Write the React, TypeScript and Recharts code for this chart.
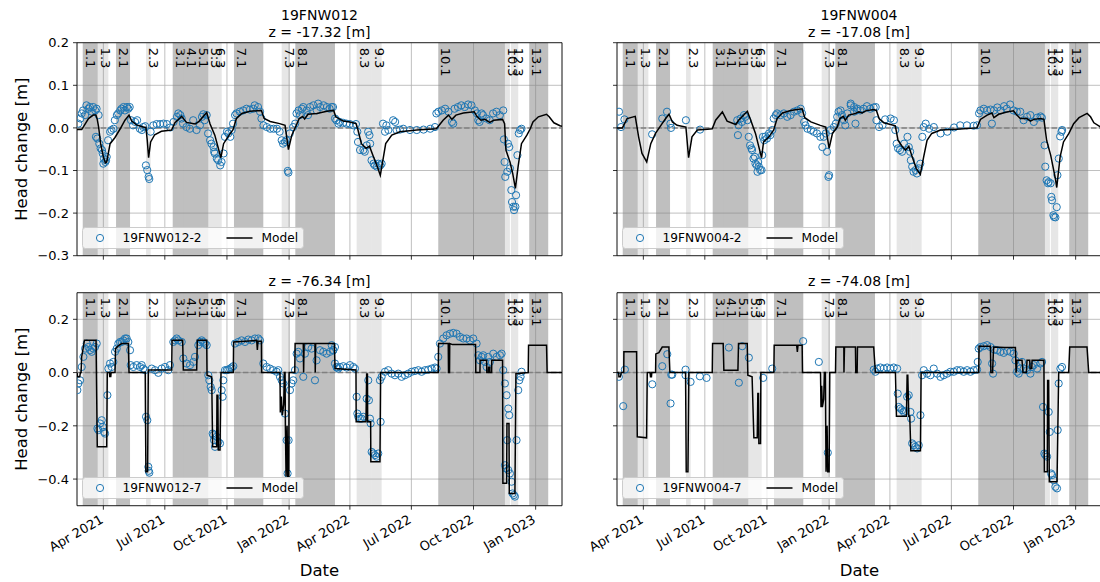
import React from 'react';
import {
  ComposedChart,
  Line,
  Scatter,
  XAxis,
  YAxis,
  CartesianGrid,
  ReferenceArea,
  ReferenceLine,
  Legend,
} from 'recharts';

type Pt = [number, number];

const FONT = '"DejaVu Sans", sans-serif';
const BLUE = '#1f77b4';

// x values are days counted from 1 Jan 2021
const X_DOMAIN: [number, number] = [51, 769];
const monthTicks = [90, 181, 273, 365, 455, 546, 638, 730];
const monthLabels = ['Apr 2021', 'Jul 2021', 'Oct 2021', 'Jan 2022', 'Apr 2022', 'Jul 2022', 'Oct 2022', 'Jan 2023'];

const upperTicks = [0.2, 0.1, 0, -0.1, -0.2, -0.3];
const lowerTicks = [0.2, 0, -0.2, -0.4];

// test phases (p = pumping, r = recovery)
const phaseNames = ['1.1', '1.3', '2.1', '2.3', '3.1', '4.1', '5.1', '5.3', '6.3', '7.1', '7.3', '8.1', '8.3', '9.3', '10.1', '10.3', '12.3', '13.1'];
const phaseStart = [59.5, 81.7, 108.8, 153.2, 192.7, 209.4, 227.2, 245.4, 252.3, 283.4, 354, 374.2, 465, 487.2, 585.8, 684.5, 693.4, 720.5];
const phaseEnd = [81.7, 97.4, 129.5, 160.1, 209.4, 227.2, 245.4, 252.3, 265.2, 326.8, 366.3, 432.9, 487.2, 502, 684.5, 691.9, 704.2, 748.6];
const phaseKind = ['p', 'r', 'p', 'r', 'p', 'p', 'p', 'r', 'r', 'p', 'r', 'p', 'r', 'r', 'p', 'r', 'r', 'p'];

// ---- 19FNW012, shallow filter ----
const modelUpper012: Pt[] = [
  [51, -0.004], [58, -0.004], [68, 0.022], [75, 0.03], [79, 0.03], [81, 0.02], [83, 0.002], [86, -0.037], [90, -0.068], [93, -0.082], [95, -0.08], [100, -0.037], [107, -0.023], [115, -0.002], [122, 0.018], [128, 0.03], [132, 0.016], [139, 0.007], [149, 0.002], [153, 0.001], [155, -0.029], [157, -0.07], [160, -0.033], [166, -0.016], [176, -0.008], [191, -0.005], [196, 0.012], [206, 0.027], [213, 0.013], [226, 0.009], [232, 0.016], [243, 0.036], [248, 0.009], [255, -0.017], [264, -0.07], [268, -0.037], [275, -0.02], [282, -0.004], [287, 0.022], [295, 0.034], [307, 0.039], [324, 0.041], [328, 0.022], [337, 0.015], [351, 0.01], [359, 0.006], [364, -0.051], [369, -0.017], [375, 0.004], [380, 0.022], [385, 0.027], [388, 0.021], [393, 0.032], [406, 0.034], [421, 0.039], [431, 0.041], [434, 0.026], [445, 0.016], [455, 0.014], [464, 0.01], [467, -0.005], [472, -0.037], [479, -0.048], [484, -0.043], [489, -0.064], [495, -0.088], [500, -0.111], [503, -0.084], [508, -0.037], [517, -0.017], [529, -0.009], [554, -0.005], [583, -0.002], [593, 0.018], [601, 0.03], [606, 0.02], [612, 0.03], [623, 0.035], [639, 0.038], [643, 0.027], [649, 0.018], [655, 0.02], [662, 0.013], [668, 0.018], [681, 0.02], [684, 0.01], [686, -0.052], [692, -0.08], [696, -0.107], [700, -0.142], [704, -0.091], [709, -0.037], [717, -0.017], [722, -0.002], [726, 0.014], [734, 0.026], [746, 0.032], [750, 0.026], [757, 0.012], [766, 0.005], [769, 0.004],
];
const obsUpper012: Pt[] = [
  [53, 0.01], [56, 0.022], [58, 0.034], [60, 0.041], [63, 0.03], [65, 0.053], [68, 0.045], [70, 0.049], [73, 0.038], [75, 0.049], [78, 0.041], [80, 0.045], [83, 0.03], [79, -0.021], [81, -0.025], [84, -0.037], [86, -0.048], [88, -0.052], [89, -0.06], [91, -0.072], [93, -0.08], [94, -0.076], [90, -0.084], [95, -0.068], [97, -0.029], [100, -0.009], [102, -0.005], [105, -0.002], [107, 0.018], [110, 0.03], [112, 0.034], [115, 0.041], [117, 0.045], [120, 0.049], [122, 0.041], [125, 0.049], [127, 0.045], [129, 0.049], [131, 0.018], [134, 0.006], [137, 0.014], [140, 0.018], [144, -0.002], [147, -0.005], [149, 0.002], [152, 0.004], [153, -0.088], [155, -0.099], [157, -0.115], [158, -0.12], [160, -0.009], [164, 0.006], [169, 0.009], [174, 0.009], [179, 0.01], [184, 0.009], [189, 0.001], [194, 0.014], [199, 0.026], [201, 0.034], [204, 0.03], [206, 0.022], [208, 0.01], [213, 0.002], [218, -0.002], [223, 0.018], [228, -0.005], [233, 0.006], [236, 0.026], [238, 0.032], [240, 0.018], [243, 0.03], [245, -0.013], [248, -0.029], [250, -0.037], [253, -0.045], [254, -0.056], [255, -0.06], [258, -0.072], [260, -0.076], [263, -0.088], [265, -0.08], [268, -0.06], [270, -0.021], [273, -0.009], [275, -0.013], [278, -0.021], [280, -0.005], [282, 0.01], [285, 0.03], [287, 0.034], [292, 0.038], [297, 0.041], [302, 0.045], [307, 0.043], [312, 0.045], [314, 0.053], [319, 0.049], [322, 0.038], [324, 0.022], [327, 0.006], [332, 0.002], [337, -0.002], [342, -0.002], [347, -0.002], [351, -0.009], [354, -0.029], [356, -0.037], [359, -0.033], [361, -0.029], [363, -0.101], [364, -0.105], [366, -0.013], [371, 0.002], [374, 0.01], [376, 0.034], [379, 0.041], [381, 0.03], [384, 0.045], [386, 0.049], [391, 0.041], [393, 0.03], [396, 0.049], [401, 0.053], [406, 0.041], [408, 0.057], [411, 0.049], [416, 0.053], [421, 0.049], [425, 0.045], [430, 0.049], [435, 0.018], [438, 0.01],
  [428, 0.049], [433, 0.022], [440, 0.014], [445, 0.012], [450, 0.01], [455, 0.009], [460, 0.006], [464, 0.009], [466, -0.009], [467, -0.033], [470, -0.052], [475, -0.052], [477, -0.056], [480, -0.041], [482, -0.009], [484, -0.017], [485, -0.037], [487, -0.076], [490, -0.084], [492, -0.088], [495, -0.091], [497, -0.084], [500, -0.088], [502, -0.084], [504, 0.01], [507, -0.009], [509, 0.006], [512, -0.005], [519, 0.018], [522, 0.014], [524, -0.005], [529, -0.004], [534, -0.002], [544, -0.005], [554, -0.005], [564, -0.004], [574, -0.002], [581, 0.002], [583, 0.034], [586, 0.038], [591, 0.041], [596, 0.045], [601, 0.038], [606, 0.014], [608, 0.01], [610, 0.045], [615, 0.049], [620, 0.053], [625, 0.049], [630, 0.055], [635, 0.053], [640, 0.041], [643, 0.034], [645, 0.018], [647, 0.014], [650, 0.034], [652, 0.03], [657, 0.022], [662, 0.018], [667, 0.034], [672, 0.038], [677, 0.03], [682, 0.041], [683, -0.027], [684, -0.08], [685, -0.115], [688, -0.103], [689, -0.037], [691, -0.045], [692, -0.095], [694, -0.146], [695, -0.174], [697, -0.185], [698, -0.193], [700, -0.185], [701, -0.158], [703, -0.064], [705, -0.013], [707, -0.005], [709, -0.002],
];

// ---- 19FNW004, shallow filter ----
const modelUpper004: Pt[] = [
  [51, 0], [59, 0], [66, 0.022], [78, 0.027], [83, -0.021], [88, -0.06], [95, -0.08], [101, -0.037], [108, -0.013], [116, 0.006], [123, 0.022], [128, 0.032], [133, 0.014], [140, 0.006], [153, 0.002], [157, -0.07], [162, -0.021], [170, -0.005], [185, -0.003], [192, -0.002], [197, 0.018], [207, 0.0375], [214, 0.016], [227, 0.008], [231, 0.018], [244, 0.039], [249, 0.018], [256, -0.013], [265, -0.07], [268, -0.033], [276, -0.021], [283, -0.005], [288, 0.022], [296, 0.035], [308, 0.041], [325, 0.045], [329, 0.024], [338, 0.014], [352, 0.006], [360, 0.002], [365, -0.048], [370, -0.013], [377, 0.002], [381, 0.022], [386, 0.027], [389, 0.018], [394, 0.03], [404, 0.034], [409, 0.0375], [414, 0.035], [419, 0.04], [431, 0.043], [435, 0.041], [439, 0.022], [446, 0.012], [456, 0.008], [463, 0.005], [467, -0.029], [473, -0.043], [478, -0.052], [483, -0.043], [488, -0.068], [494, -0.095], [500, -0.109], [505, -0.068], [510, -0.029], [517, -0.013], [530, -0.005], [554, -0.003], [584, 0], [589, 0.02], [599, 0.03], [606, 0.035], [609, 0.024], [616, 0.032], [628, 0.0375], [638, 0.04], [643, 0.03], [648, 0.022], [658, 0.022], [663, 0.016], [668, 0.02], [678, 0.022], [683, 0.02], [687, -0.029], [693, -0.064], [700, -0.119], [702, -0.14], [707, -0.068], [712, -0.033], [720, -0.013], [727, 0.01], [735, 0.024], [747, 0.034], [752, 0.026], [757, 0.012], [767, 0.002], [769, 0.002],
];
const obsUpper004: Pt[] = [
  [54, 0.038], [57, 0.002], [62, 0.02], [103, -0.015], [118, 0.022], [125, 0.038], [130, 0.01], [131, 0], [153, 0.018], [174, -0.004],
  [229, 0.018], [230, -0.017], [231, 0.006], [234, 0.022], [236, 0.014], [239, 0.03], [241, 0.026], [244, 0.018], [246, -0.021], [248, -0.041], [250, -0.048], [251, -0.052], [253, -0.072], [255, -0.068], [256, -0.084], [258, -0.088], [259, -0.103], [260, -0.08], [261, -0.091], [263, -0.099], [265, -0.099], [266, -0.064], [267, -0.021], [269, -0.029], [271, -0.02], [273, -0.025], [276, -0.013], [278, -0.017], [281, -0.005], [283, 0.022], [286, 0.03], [288, 0.034], [293, 0.03], [298, 0.034], [303, 0.026], [308, 0.03], [313, 0.038], [318, 0.041], [323, 0.045], [325, 0.034], [328, 0.014], [330, 0.006], [333, -0.002], [338, -0.005], [342, -0.009], [347, -0.013], [352, -0.021], [355, -0.045], [357, -0.021], [360, -0.013], [362, -0.056], [364, -0.115], [365, -0.111], [367, -0.005], [372, 0.002], [375, 0.01], [377, 0.026], [379, 0.038], [382, 0.041], [384, 0.03], [387, 0.018], [389, 0.006], [392, 0.034], [397, 0.053], [402, 0.038], [407, 0.045], [411, 0.041],
  [397, 0.057], [402, 0.049], [404, 0.01], [406, 0.041], [416, 0.045], [421, 0.051], [426, 0.045], [431, 0.048], [434, 0.049], [435, 0.018], [439, 0.002], [444, 0.006], [448, 0.02], [456, 0.022], [461, 0.018], [463, -0.005], [465, -0.037], [467, -0.048], [470, -0.052], [473, -0.056], [476, -0.037], [481, -0.021], [483, -0.045], [485, -0.056], [486, -0.076], [488, -0.091], [490, -0.103], [493, -0.099], [495, -0.107], [498, -0.095], [500, -0.084], [503, -0.021], [505, 0.002], [508, 0.01], [513, -0.002], [520, 0.002], [530, -0.013], [540, -0.009], [550, 0.001], [559, 0.006], [569, 0.006], [579, 0.005], [584, 0.006], [587, 0.034], [589, 0.041], [594, 0.045], [599, 0.041], [604, 0.043], [606, 0.01], [609, 0.041], [614, 0.048], [619, 0.041], [624, 0.051], [628, 0.045], [633, 0.055], [638, 0.041], [643, 0.038], [648, 0.038], [653, 0.018], [658, 0.026], [663, 0.03], [668, 0.014], [673, 0.024], [678, 0.027], [680, 0.024], [684, -0.041], [685, -0.091], [687, -0.123], [689, -0.13], [690, -0.127], [693, -0.13], [694, -0.162], [695, -0.17], [697, -0.205], [698, -0.209], [700, -0.21], [702, -0.186], [703, -0.111], [705, -0.072], [707, -0.02], [709, -0.009], [710, -0.005],
];

// ---- 19FNW012, deep filter ----
const modelLower012: Pt[] = [
  [51, 0], [52, -0.016], [55, -0.016], [56, 0], [57, 0], [58, 0.06], [60, 0.09], [62, 0.121], [79.2, 0.121], [80.2, -0.1], [81, -0.279], [95, -0.279], [95.8, 0], [99, 0], [99.5, -0.015], [101, -0.015], [101.5, 0], [107.3, 0], [108, 0.09], [112, 0.1], [117, 0.109], [127, 0.109], [128, 0], [152, 0], [152.5, -0.2], [153, -0.3725], [155.5, -0.3725], [156.6, 0.01], [191.2, 0.01], [191.7, 0.121], [207.4, 0.121], [208.4, 0.01], [228.2, 0.01], [229.1, 0.121], [243, 0.121], [243.5, -0.01], [250.4, -0.016], [251.8, -0.279], [257.8, -0.279], [258.2, -0.085], [259.5, -0.085], [260.2, -0.291], [262.7, -0.291], [264.2, 0], [282.4, 0], [282.8, 0.115], [300, 0.118], [317, 0.121], [318, 0.085], [319, 0.118], [324, 0.118], [324.3, 0], [351.5, 0], [352, -0.15], [353.5, -0.09], [355, -0.16], [357, -0.12], [358, 0], [359, 0], [359.5, -0.2], [360.5, -0.39], [362, -0.2], [363, -0.39], [364.5, -0.39], [365, 0], [373.4, 0], [373.9, 0.109], [386, 0.109], [386.5, 0], [387.2, 0.109], [403.3, 0.109], [403.7, 0], [404.3, 0.109], [432, 0.109], [433, 0.015], [464, 0.01], [464.3, -0.185], [478.8, -0.185], [479.8, -0.005], [481, -0.005], [481.3, -0.185], [485.7, -0.185], [486, -0.335], [499.5, -0.335], [500.5, 0], [585.8, 0], [586.2, 0.109], [600.6, 0.109], [601, 0], [602.5, 0], [602.8, 0.109], [607, 0.105], [641, 0.105], [641.4, 0], [647.5, 0], [647.8, 0.046], [657.4, 0.046], [657.7, 0], [660, 0], [660.2, 0.02], [662, 0.02], [662.2, 0], [664.8, 0], [665, 0.046], [681, 0.046], [681.5, -0.416], [687, -0.416], [687.5, -0.191], [690.5, -0.191], [691, -0.454], [699.3, -0.454], [700.8, -0.004], [719, 0], [719.5, 0.1025], [746.1, 0.1025], [747, 0], [769, 0],
];
const obsLower012: Pt[] = [
  [51.5, -0.066], [53, -0.041], [55.5, -0.029], [58, 0.021], [60.5, 0.059], [63, 0.09], [65.4, 0.109], [67.8, 0.096], [70.3, 0.084], [72.8, 0.078], [75.2, 0.09], [77.7, 0.096], [80.2, 0.109], [81.2, -0.21], [82.6, -0.216], [85.1, -0.191], [87.6, -0.179], [89.1, -0.204], [91, -0.223], [92.5, -0.229], [96, -0.085], [97.4, 0.015], [99.9, 0.034], [102.4, 0.021], [104.8, 0.04], [107.3, 0.078], [109.8, 0.09], [112.2, 0.109], [114.7, 0.115], [117.2, 0.115], [119.6, 0.121], [122.1, 0.128], [124.6, 0.128], [127, 0.115], [129.5, 0.084], [130.5, 0.028], [134.4, 0.021], [139.4, 0.028], [144.3, 0.021], [146.8, 0.028], [149.2, 0.015], [151.7, 0.009], [153.2, -0.166], [155.1, -0.179], [156.6, -0.354], [157.1, -0.369], [158.1, -0.376], [161.6, 0.015], [166.5, 0.009], [171.4, -0.001], [176.4, 0.015], [181.3, 0.021], [186.2, 0.009], [188.7, 0.028], [193.6, 0.115], [196.1, 0.121], [198.6, 0.128], [201, 0.121], [206, 0.115], [208.4, 0.053], [213.3, 0.034], [218.3, 0.028], [223.2, 0.04], [225.7, 0.059], [230.6, 0.103], [233.1, 0.115], [235.6, 0.121], [238, 0.115], [240.5, 0.109], [243, 0.103], [245.4, -0.01], [246.9, -0.029], [248.9, -0.054], [250.4, -0.066], [251.8, -0.229], [252.8, -0.235], [253.8, -0.254], [255.3, -0.279], [257.8, -0.241], [260.2, -0.26], [262.7, -0.266], [265.2, -0.066], [266.6, -0.091], [267.6, -0.029], [270.1, 0.009], [272.6, 0.009], [275, 0.011], [277.5, 0.015], [280, 0.019], [282.4, 0.024], [284.9, 0.109], [289.8, 0.115], [294.7, 0.121], [299.7, 0.115], [304.6, 0.124], [309.5, 0.121], [314.5, 0.128], [319.4, 0.128], [321.9, 0.121], [326.8, 0.034], [331.7, 0.021], [336.7, 0.015], [341.6, 0.009], [346.6, 0.003], [349, 0.009], [351.5, -0.016], [354, -0.029], [356.4, -0.041], [358.9, -0.154], [361.3, -0.254], [362.8, -0.379], [364.3, -0.254], [366.3, -0.066], [368.7, -0.041], [371.2, -0.029], [373.7, 0.009], [376.2, 0.071], [378.6, 0.078], [381.1, 0.053], [386, -0.016], [388.5, 0.071], [393.4, 0.096], [398.3, 0.09], [403.3, -0.029], [405.7, 0.046], [410.7, 0.084], [415.6, 0.078], [420.5, 0.071], [425.5, 0.078], [430.4, 0.084], [432.9, 0.096], [435.3, 0.021], [437.8, 0.015],
  [428, 0.103], [430.4, 0.084], [432.9, 0.034], [435.4, 0.019], [440.3, 0.021], [445.2, 0.024], [450.2, 0.019], [455.1, 0.028], [460, 0.021], [462.5, 0.015], [465, -0.091], [466, -0.154], [467.4, -0.166], [469.9, -0.173], [472.4, -0.173], [474.8, -0.166], [479.8, -0.098], [482.2, -0.029], [483.2, -0.104], [484.7, -0.173], [485.7, -0.191], [487.2, -0.298], [489.6, -0.304], [492.1, -0.31], [494.6, -0.316], [497, -0.304], [500.5, -0.185], [499.5, -0.029], [502, -0.016], [506.9, 0.003], [511.8, 0.009], [516.8, -0.004], [521.7, -0.01], [526.6, -0.004], [531.6, -0.016], [536.5, -0.01], [541.4, -0.004], [546.4, 0.003], [551.3, 0.006], [556.2, 0.009], [561.2, 0.003], [566.1, 0.009], [571, 0.011], [576, 0.015], [580.9, 0.019], [583.4, 0.015], [585.8, 0.059], [588.3, 0.109], [593.2, 0.128], [598.2, 0.14], [603.1, 0.146], [608, 0.149], [613, 0.146], [617.9, 0.134], [622.8, 0.128], [627.8, 0.128], [632.7, 0.121], [637.6, 0.128], [642.6, 0.109], [645, 0.065], [647.5, 0.046], [650, 0.059], [652.4, 0.065], [654.9, 0.04], [657.4, 0.021], [659.8, 0.059], [662.3, 0.04], [667.2, 0.071], [672.2, 0.059], [677.1, 0.065], [679.6, 0.071], [682, 0.009], [684.5, -0.041], [687, -0.085], [689.4, -0.135], [690.9, -0.16], [687.9, -0.254], [684.5, -0.348], [686, -0.36], [689.4, -0.366], [691.9, -0.379], [694.3, -0.41], [695.8, -0.454], [697.8, -0.46], [699.3, -0.466], [701.7, -0.254], [704.2, -0.066], [705.7, -0.029], [707.7, -0.016], [709.1, 0.003],
];

// ---- 19FNW004, deep filter ----
const modelLower004: Pt[] = [
  [51, 0], [53.5, 0], [53.8, -0.016], [56, -0.016], [57.3, 0], [61, 0], [61.2, 0.078], [80, 0.078], [80.5, -0.1], [81, -0.241], [94.8, -0.245], [95.8, 0], [100, 0], [100.6, -0.016], [102, -0.016], [102.5, 0], [108.1, 0], [108.5, 0.07], [113, 0.075], [118, 0.096], [127.8, 0.096], [129.3, 0], [152.5, 0], [153.5, -0.3725], [156, -0.3725], [157.4, 0], [192, 0], [192.5, 0.109], [208.2, 0.109], [209.2, 0.009], [230, 0.009], [230.9, 0.109], [243.8, 0.109], [244.7, -0.01], [251, -0.016], [253.6, -0.245], [258.6, -0.245], [259.5, -0.079], [260.5, -0.079], [261, -0.266], [263.5, -0.266], [264, 0], [283.2, 0], [283.7, 0.1025], [317, 0.1025], [318, 0.078], [319, 0.1025], [325.1, 0.1025], [325.6, 0], [352.3, 0], [353, -0.13], [354, -0.05], [355, -0.13], [357, -0.1], [358, 0], [359.5, 0], [360, -0.2], [360.5, -0.3725], [362, -0.2], [363, -0.3725], [365, -0.3725], [366, 0], [374.5, 0], [375, 0.096], [386.8, 0.096], [387, 0], [387.8, 0.096], [404, 0.096], [404.5, 0], [406.5, 0], [407, 0.096], [431, 0.096], [433.5, 0], [463.2, 0], [464.7, -0.164], [479.5, -0.164], [480.5, -0.01], [481.5, -0.01], [483, -0.164], [484.4, -0.164], [486, -0.294], [500.2, -0.294], [501.2, 0], [586.5, 0], [587, 0.099], [603.8, 0.099], [604.5, 0], [607, 0], [608.5, 0.096], [625, 0.094], [640.8, 0.094], [641.8, 0], [643.2, 0.046], [650.6, 0.046], [652, 0], [657, 0], [658, 0.046], [662, 0.046], [662.5, 0.015], [665, 0.015], [665.5, 0.046], [683, 0.046], [683.7, -0.3725], [688, -0.3725], [688.5, -0.03], [690, -0.03], [691, -0.41], [702.4, -0.41], [704.9, 0], [719.7, 0], [721.2, 0.096], [746.8, 0.096], [749.3, 0], [769, 0],
];
const obsLower004: Pt[] = [
  [53.8, -0.016], [60.2, -0.126], [62.7, 0.011], [103.2, -0.044], [118, 0.024], [125.4, 0.069], [130.3, -0.116], [131.3, -0.008], [132.8, -0.008], [152.5, 0.011], [152.5, -0.01], [159.9, -0.035], [173.7, -0.014], [183.6, -0.02], [216.6, 0.094], [231.4, -0.038], [236.4, 0.099], [246.2, 0.056], [267.4, -0.02], [280.8, 0.015], [326.6, 0.118], [349.8, 0.04], [363.1, -0.301],
  [431.1, 0.011], [433.6, 0.003], [436.1, 0.015], [441, 0.019], [445.9, 0.015], [450.9, 0.019], [455.8, 0.015], [460.7, 0.019], [465.7, 0.015], [466.6, -0.079], [468.1, -0.129], [470.6, -0.135], [473, -0.141], [475.5, -0.148], [478, -0.144], [480.5, -0.091], [482.9, -0.085], [485.4, -0.148], [486.4, -0.173], [487.9, -0.266], [490.3, -0.273], [492.8, -0.279], [495.3, -0.285], [497.7, -0.273], [500.2, -0.16], [502.7, -0.01], [505.1, 0.009], [510.1, -0.004], [515, -0.01], [519.9, 0.015], [524.9, -0.004], [529.8, -0.016], [534.7, -0.01], [539.7, -0.004], [544.6, 0.003], [549.5, 0.003], [554.5, 0.009], [559.4, 0.009], [564.3, 0.003], [569.3, 0.009], [574.2, 0.003], [579.1, 0.009], [584.1, 0.011], [585, 0.04], [586.5, 0.09], [589, 0.096], [593.9, 0.099], [598.9, 0.103], [603.8, 0.096], [606.3, 0.034], [607.7, -0.004], [609.7, 0.086], [613.7, 0.084], [618.6, 0.078], [623.5, 0.074], [628.5, 0.081], [633.4, 0.078], [638.3, 0.071], [640.8, 0.046], [643.3, 0.003], [645.7, -0.004], [648.2, 0.015], [650.6, 0.04], [653.1, 0.015], [658, 0.009], [663, -0.004], [665.4, 0.021], [667.9, 0.028], [672.9, 0.015], [677.8, 0.034], [680.3, 0.04], [681.7, -0.129], [683.7, -0.304], [685.2, -0.31], [687.7, -0.316], [690.1, -0.148], [691.6, -0.223], [693.6, -0.379], [695.1, -0.385], [697.5, -0.404], [700, -0.429], [702.4, -0.435], [703.4, -0.216], [704.9, -0.041], [707.4, 0.015], [709.8, 0.021],
];

const fmtValue = (v: number) => {
  const s = Math.abs(v).toFixed(1);
  return v < -1e-9 ? `\u2212${s}` : s;
};

const NoLabel = () => null;

function ValueTick(props: any) {
  const { x, y, payload } = props;
  return (
    <text x={x} y={y} dy="0.36em" textAnchor="end" fontSize={13} fontFamily={FONT} fill="#000">
      {fmtValue(payload.value)}
    </text>
  );
}

function DateTick(props: any) {
  const { x, y, payload } = props;
  const i = monthTicks.indexOf(payload.value);
  return (
    <g transform={`translate(${x - 4},${y})`}>
      <text transform="rotate(-30)" textAnchor="end" dy="0.75em" fontSize={13} fontFamily={FONT} fill="#000">
        {i >= 0 ? monthLabels[i] : ''}
      </text>
    </g>
  );
}

function PhaseLabel(props: any) {
  const vb = props.viewBox;
  if (!vb) return null;
  const x = vb.x + 3;
  const y = vb.y + 5;
  return (
    <text x={x} y={y} transform={`rotate(90 ${x} ${y})`} fontSize={13} fontFamily={FONT} fill="#000">
      {props.text}
    </text>
  );
}

function YTitle(props: any) {
  const vb = props.viewBox;
  if (!vb) return null;
  const x = vb.x + 27;
  const y = vb.y + vb.height / 2;
  return (
    <text x={x} y={y} transform={`rotate(-90 ${x} ${y})`} textAnchor="middle" fontSize={16.5} fontFamily={FONT} fill="#000">
      Head change [m]
    </text>
  );
}

function XTitle(props: any) {
  const vb = props.viewBox;
  if (!vb) return null;
  return (
    <text x={vb.x + vb.width / 2} y={vb.y + 70} textAnchor="middle" fontSize={16.5} fontFamily={FONT} fill="#000">
      Date
    </text>
  );
}

function LegendBox(props: any) {
  return (
    <svg width={222} height={22} style={{ display: 'block', overflow: 'visible' }}>
      <rect x={0.5} y={0.5} width={221} height={21} rx={3} fill="#fff" fillOpacity={0.8} stroke="#cccccc" />
      <circle cx={18} cy={11} r={3.6} fill="none" stroke={BLUE} strokeWidth={1} />
      <text x={40.5} y={15.3} fontSize={12.2} fontFamily={FONT} fill="#000">{props.name}</text>
      <line x1={144.5} x2={170.5} y1={11} y2={11} stroke="#000" strokeWidth={1.5} />
      <text x={179.5} y={15.3} fontSize={12.2} fontFamily={FONT} fill="#000">Model</text>
    </svg>
  );
}

const renderCircle = (p: any) => (
  <circle cx={p.cx} cy={p.cy} r={3.6} fill="none" stroke={BLUE} strokeWidth={1} />
);

type PanelProps = { col: number; row: number; model: Pt[]; obs: Pt[]; series: string };

function Panel({ col, row, model, obs, series }: PanelProps) {
  const upper = row === 0;
  const height = upper ? 290 : 332;
  const yDomain: [number, number] = upper ? [-0.3, 0.2] : [-0.5, 0.3];
  const modelData = model.map(([d, v]) => ({ d, v }));
  const obsData = obs.map(([d, v]) => ({ d, v }));
  return (
    <div style={{ position: 'absolute', left: col === 0 ? 0 : 539.5, top: upper ? 0 : 250, width: 570, height }}>
      <ComposedChart width={570} height={height} margin={{ top: 42.7, right: 8, bottom: 0, left: 0 }}>
        <CartesianGrid stroke="#b0b0b0" strokeWidth={0.8} />
        <XAxis
          type="number"
          dataKey="d"
          domain={X_DOMAIN}
          ticks={monthTicks}
          interval={0}
          allowDataOverflow
          height={upper ? 34.3 : 76.3}
          axisLine={false}
          stroke="#000"
          tickLine={{ stroke: '#000', strokeWidth: 0.8 }}
          tickSize={4}
          tickMargin={4}
          tick={upper ? NoLabel : <DateTick />}
          label={upper ? undefined : <XTitle />}
        />
        <YAxis
          type="number"
          domain={yDomain}
          ticks={upper ? upperTicks : lowerTicks}
          interval={0}
          allowDataOverflow
          width={77}
          axisLine={false}
          stroke="#000"
          tickLine={{ stroke: '#000', strokeWidth: 0.8 }}
          tickSize={4}
          tickMargin={4}
          tick={col === 0 ? <ValueTick /> : NoLabel}
          label={col === 0 ? <YTitle /> : undefined}
        />
        {phaseNames.map((name, i) => (
          <ReferenceArea
            key={name}
            x1={phaseStart[i]}
            x2={phaseEnd[i]}
            fill="#808080"
            fillOpacity={phaseKind[i] === 'p' ? 0.5 : 0.2}
            stroke="none"
            label={<PhaseLabel text={name} />}
          />
        ))}
        <ReferenceLine y={0} stroke="#808080" strokeWidth={1.5} strokeDasharray="5.5 2.4" />
        <Scatter data={obsData} dataKey="v" shape={renderCircle} isAnimationActive={false} zIndex={400} />
        <Line data={modelData} dataKey="v" type="linear" stroke="#000" strokeWidth={1.5} dot={false} activeDot={false} isAnimationActive={false} zIndex={700} />
        <ReferenceArea
          x1={X_DOMAIN[0]}
          x2={X_DOMAIN[1]}
          y1={yDomain[0]}
          y2={yDomain[1]}
          fill="none"
          stroke="#000"
          strokeWidth={0.8}
          ifOverflow="visible"
        />
        <Legend
          layout="horizontal"
          verticalAlign="middle"
          align="center"
          content={<LegendBox name={series} />}
          wrapperStyle={{ left: 82, top: 226.5, width: 222, height: 22, lineHeight: 0 }}
        />
      </ComposedChart>
    </div>
  );
}

const panels: PanelProps[] = [
  { col: 0, row: 0, model: modelUpper012, obs: obsUpper012, series: '19FNW012-2' },
  { col: 1, row: 0, model: modelUpper004, obs: obsUpper004, series: '19FNW004-2' },
  { col: 0, row: 1, model: modelLower012, obs: obsLower012, series: '19FNW012-7' },
  { col: 1, row: 1, model: modelLower004, obs: obsLower004, series: '19FNW004-7' },
];

export default function App() {
  const titleStyle = { fontSize: 14, fontFamily: FONT, fill: '#000' } as const;
  return (
    <div style={{ position: 'absolute', left: 0, top: 0, width: 1100, height: 582, overflow: 'hidden', background: '#fff' }}>
      {panels.map((p) => (
        <Panel key={`${p.col}-${p.row}`} {...p} />
      ))}
      <svg width={1100} height={582} style={{ position: 'absolute', left: 0, top: 0, pointerEvents: 'none' }}>
        <text x={319.5} y={20} textAnchor="middle" {...titleStyle}>19FNW012</text>
        <text x={319.5} y={36.5} textAnchor="middle" {...titleStyle}>z = -17.32 [m]</text>
        <text x={859} y={20} textAnchor="middle" {...titleStyle}>19FNW004</text>
        <text x={859} y={36.5} textAnchor="middle" {...titleStyle}>z = -17.08 [m]</text>
        <text x={319.5} y={286} textAnchor="middle" {...titleStyle}>z = -76.34 [m]</text>
        <text x={859} y={286} textAnchor="middle" {...titleStyle}>z = -74.08 [m]</text>
      </svg>
    </div>
  );
}
